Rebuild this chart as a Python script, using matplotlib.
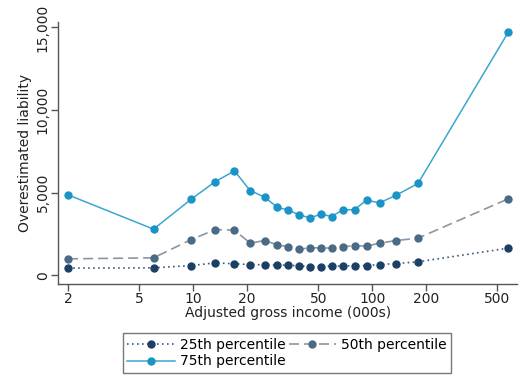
import matplotlib
matplotlib.use("Agg")
import matplotlib.pyplot as plt
from matplotlib.ticker import FixedLocator, FixedFormatter, NullLocator

income = [2, 6, 9.75, 13.3, 17, 20.8, 25.1, 29.4, 33.8, 39.1, 44.9, 51.7,
          59.3, 68.3, 79.6, 92.9, 110, 136, 180, 575]
p25 = [424, 442, 581, 745, 684, 642, 623, 605, 605, 563, 520, 520,
       563, 545, 581, 581, 642, 702, 805, 1634]
p50 = [987, 1047, 2155, 2760, 2724, 1937, 2095, 1834, 1731, 1574, 1653, 1653,
       1634, 1713, 1792, 1755, 1937, 2095, 2240, 4620]
p75 = [4860, 2785, 4600, 5670, 6310, 5120, 4720, 4115, 3935, 3650, 3470, 3690,
       3550, 3950, 3970, 4540, 4380, 4840, 5550, 14710]

xticks = [2, 5, 10, 20, 50, 100, 200, 500]
xticklabels = ["2", "5", "10", "20", "50", "100", "200", "500"]
yticks = [0, 5000, 10000, 15000]
yticklabels = ["0", "5,000", "10,000", "15,000"]
labels = ["25th percentile", "50th percentile", "75th percentile"]

fig = plt.figure(figsize=(5.24, 3.85), dpi=100)
ax = fig.add_axes([0.111, 0.262, 0.876, 0.681])

l25, = ax.plot(income, p25, linestyle=(0, (1, 2)), color="#3a5a80", lw=1.2,
               marker="o", ms=5, mfc="#1c3f66", mec="#1c3f66", label=labels[0])
l50, = ax.plot(income, p50, linestyle=(0, (6, 3)), color="#8a96a3", lw=1.2,
               marker="o", ms=5, mfc="#4a6a85", mec="#4a6a85", label=labels[1])
l75, = ax.plot(income, p75, linestyle="-", color="#3aa6d0", lw=1.1,
               marker="o", ms=5, mfc="#1a93c6", mec="#1a93c6", label=labels[2])

ax.set_xscale("log")
ax.set_xlim(1.76, 645)
ax.set_ylim(-545, 15333)
ax.xaxis.set_major_locator(FixedLocator(xticks))
ax.xaxis.set_major_formatter(FixedFormatter(xticklabels))
ax.xaxis.set_minor_locator(NullLocator())
ax.yaxis.set_major_locator(FixedLocator(yticks))
ax.yaxis.set_major_formatter(FixedFormatter(yticklabels))
for lab in ax.get_yticklabels():
    lab.set_rotation(90)
    lab.set_va("center")

for s in ["top", "right"]:
    ax.spines[s].set_visible(False)
for s in ["left", "bottom"]:
    ax.spines[s].set_color("#555555")
    ax.spines[s].set_linewidth(1.0)
ax.tick_params(axis="both", direction="out", length=5, width=1.0,
               color="#555555", labelsize=10, labelcolor="#222222", pad=1)

ax.set_xlabel("Adjusted gross income (000s)", fontsize=10, color="#222222", labelpad=0)
ax.set_ylabel("Overestimated liability", fontsize=10, color="#222222", labelpad=3)

leg = fig.legend([l25, l75, l50], [labels[0], labels[2], labels[1]], ncol=2,
                 loc="center", bbox_to_anchor=(0.548, 0.083), fontsize=10,
                 frameon=True, fancybox=False, edgecolor="#555555",
                 handlelength=3.4, handletextpad=0.4, columnspacing=0.2,
                 borderpad=0.3, labelspacing=0.2)
leg.get_frame().set_linewidth(1.0)

fig.savefig("out.png", dpi=100, facecolor="white")
